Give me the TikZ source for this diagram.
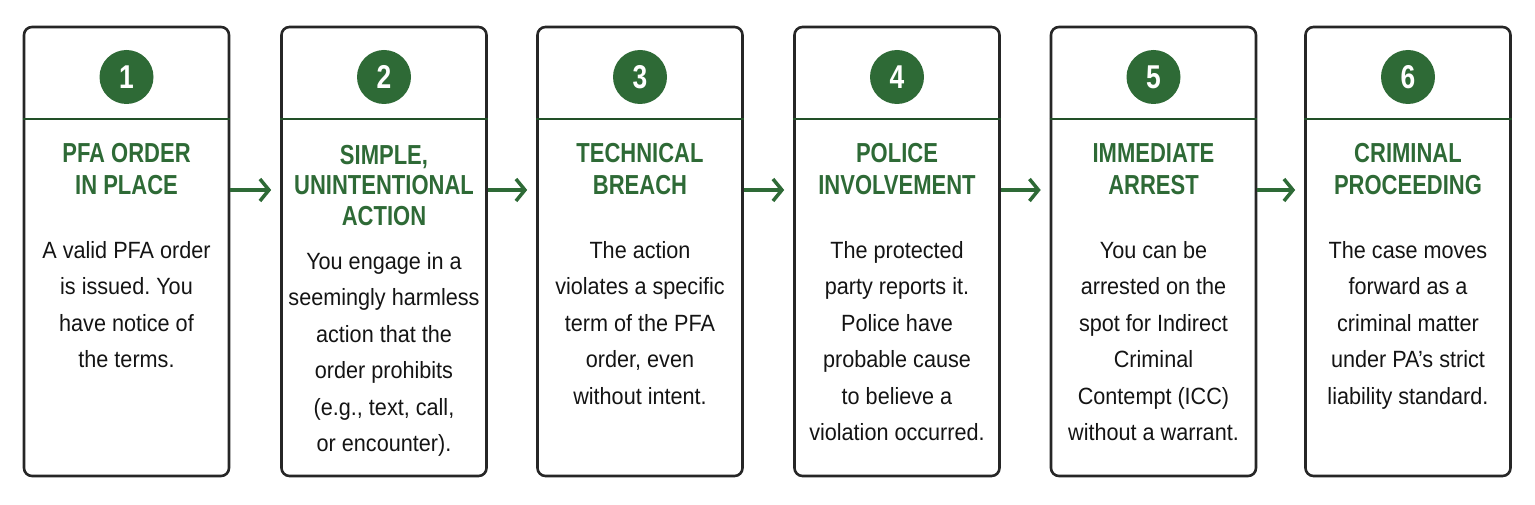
\documentclass[tikz,border=0pt]{standalone}
\usepackage{fontspec}
\setmainfont{Liberation Sans}[FakeStretch=0.92]
\newfontfamily\headfont{Liberation Sans}[FakeStretch=0.8]
\usetikzlibrary{arrows.meta}
\definecolor{pfagreen}{HTML}{2E6A36}
\definecolor{boxline}{HTML}{262626}
\frenchspacing

\begin{document}
\begin{tikzpicture}[x = 1pt, y = -1pt]
	\tikzstyle{stageStyle} = [draw = boxline, line width = 2.6pt, rounded corners = 8pt, minimum width = 205pt, minimum height = 449pt, inner sep = 0pt]
	\tikzstyle{numberStyle} = [circle, fill = pfagreen, minimum size = 54pt, inner sep = 0pt, text = white, font = \headfont\bfseries\fontsize{33}{33}\selectfont]
	\tikzstyle{titleStyle} = [anchor = north, align = center, text = pfagreen, inner sep = 0pt, font = \headfont\bfseries\fontsize{27.5}{32.5}\selectfont]
	\tikzstyle{bodyStyle} = [anchor = north, align = center, text = black!92, inner sep = 0pt, font = \fontsize{23.5}{36.5}\selectfont]
	\tikzstyle{dividerStyle} = [draw = pfagreen!75!black, line width = 2.4pt]
	\tikzstyle{flowStyle} = [draw = pfagreen, line width = 3.5pt, -{Straight Barb[length = 9pt, width = 22pt]}, shorten >= 9pt]
	\useasboundingbox (0,0) rectangle (1535,505);
	% stages
	\node[stageStyle] (box1) at (126.5,251.5) {};
	\node[stageStyle] (box2) at (384,251.5) {};
	\node[stageStyle] (box3) at (640,251.5) {};
	\node[stageStyle] (box4) at (897,251.5) {};
	\node[stageStyle] (box5) at (1153.5,251.5) {};
	\node[stageStyle] (box6) at (1408,251.5) {};
	\draw[dividerStyle] (box1.west |- 0,119) -- (box1.east |- 0,119);
	\draw[dividerStyle] (box2.west |- 0,119) -- (box2.east |- 0,119);
	\draw[dividerStyle] (box3.west |- 0,119) -- (box3.east |- 0,119);
	\draw[dividerStyle] (box4.west |- 0,119) -- (box4.east |- 0,119);
	\draw[dividerStyle] (box5.west |- 0,119) -- (box5.east |- 0,119);
	\draw[dividerStyle] (box6.west |- 0,119) -- (box6.east |- 0,119);
	% numbers
	\node[numberStyle] (num1) at (126.5,77) {1};
	\node[numberStyle] (num2) at (384,77) {2};
	\node[numberStyle] (num3) at (640,77) {3};
	\node[numberStyle] (num4) at (897,77) {4};
	\node[numberStyle] (num5) at (1153.5,77) {5};
	\node[numberStyle] (num6) at (1408,77) {6};
	% titles
	\node[titleStyle] (title1) at (126.5,143) {PFA ORDER\\IN PLACE};
	\node[titleStyle, font = \headfont\bfseries\fontsize{27.5}{30.5}\selectfont] (title2) at (384,145) {SIMPLE,\\UNINTENTIONAL\\ACTION};
	\node[titleStyle] (title3) at (640,143) {TECHNICAL\\BREACH};
	\node[titleStyle] (title4) at (897,143) {POLICE\\INVOLVEMENT};
	\node[titleStyle] (title5) at (1153.5,143) {IMMEDIATE\\ARREST};
	\node[titleStyle] (title6) at (1408,143) {CRIMINAL\\PROCEEDING};
	% descriptions
	\node[bodyStyle] (text1) at (126.5,241) {A valid PFA order\\is issued. You\\have notice of\\the terms.};
	\node[bodyStyle] (text2) at (384,252) {You engage in a\\seemingly harmless\\action that the\\order prohibits\\(e.g., text, call,\\or encounter).};
	\node[bodyStyle] (text3) at (640,241) {The action\\violates a specific\\term of the PFA\\order, even\\without intent.};
	\node[bodyStyle] (text4) at (897,241) {The protected\\party reports it.\\Police have\\probable cause\\to believe a\\violation occurred.};
	\node[bodyStyle] (text5) at (1153.5,241) {You can be\\arrested on the\\spot for Indirect\\Criminal\\Contempt (ICC)\\without a warrant.};
	\node[bodyStyle] (text6) at (1408,241) {The case moves\\forward as a\\criminal matter\\under PA’s strict\\liability standard.};
	% flow
	\draw[flowStyle] (box1.east |- 0,190) -- (box2.west |- 0,190);
	\draw[flowStyle] (box2.east |- 0,190) -- (box3.west |- 0,190);
	\draw[flowStyle] (box3.east |- 0,190) -- (box4.west |- 0,190);
	\draw[flowStyle] (box4.east |- 0,190) -- (box5.west |- 0,190);
	\draw[flowStyle] (box5.east |- 0,190) -- (box6.west |- 0,190);
\end{tikzpicture}
\end{document}
